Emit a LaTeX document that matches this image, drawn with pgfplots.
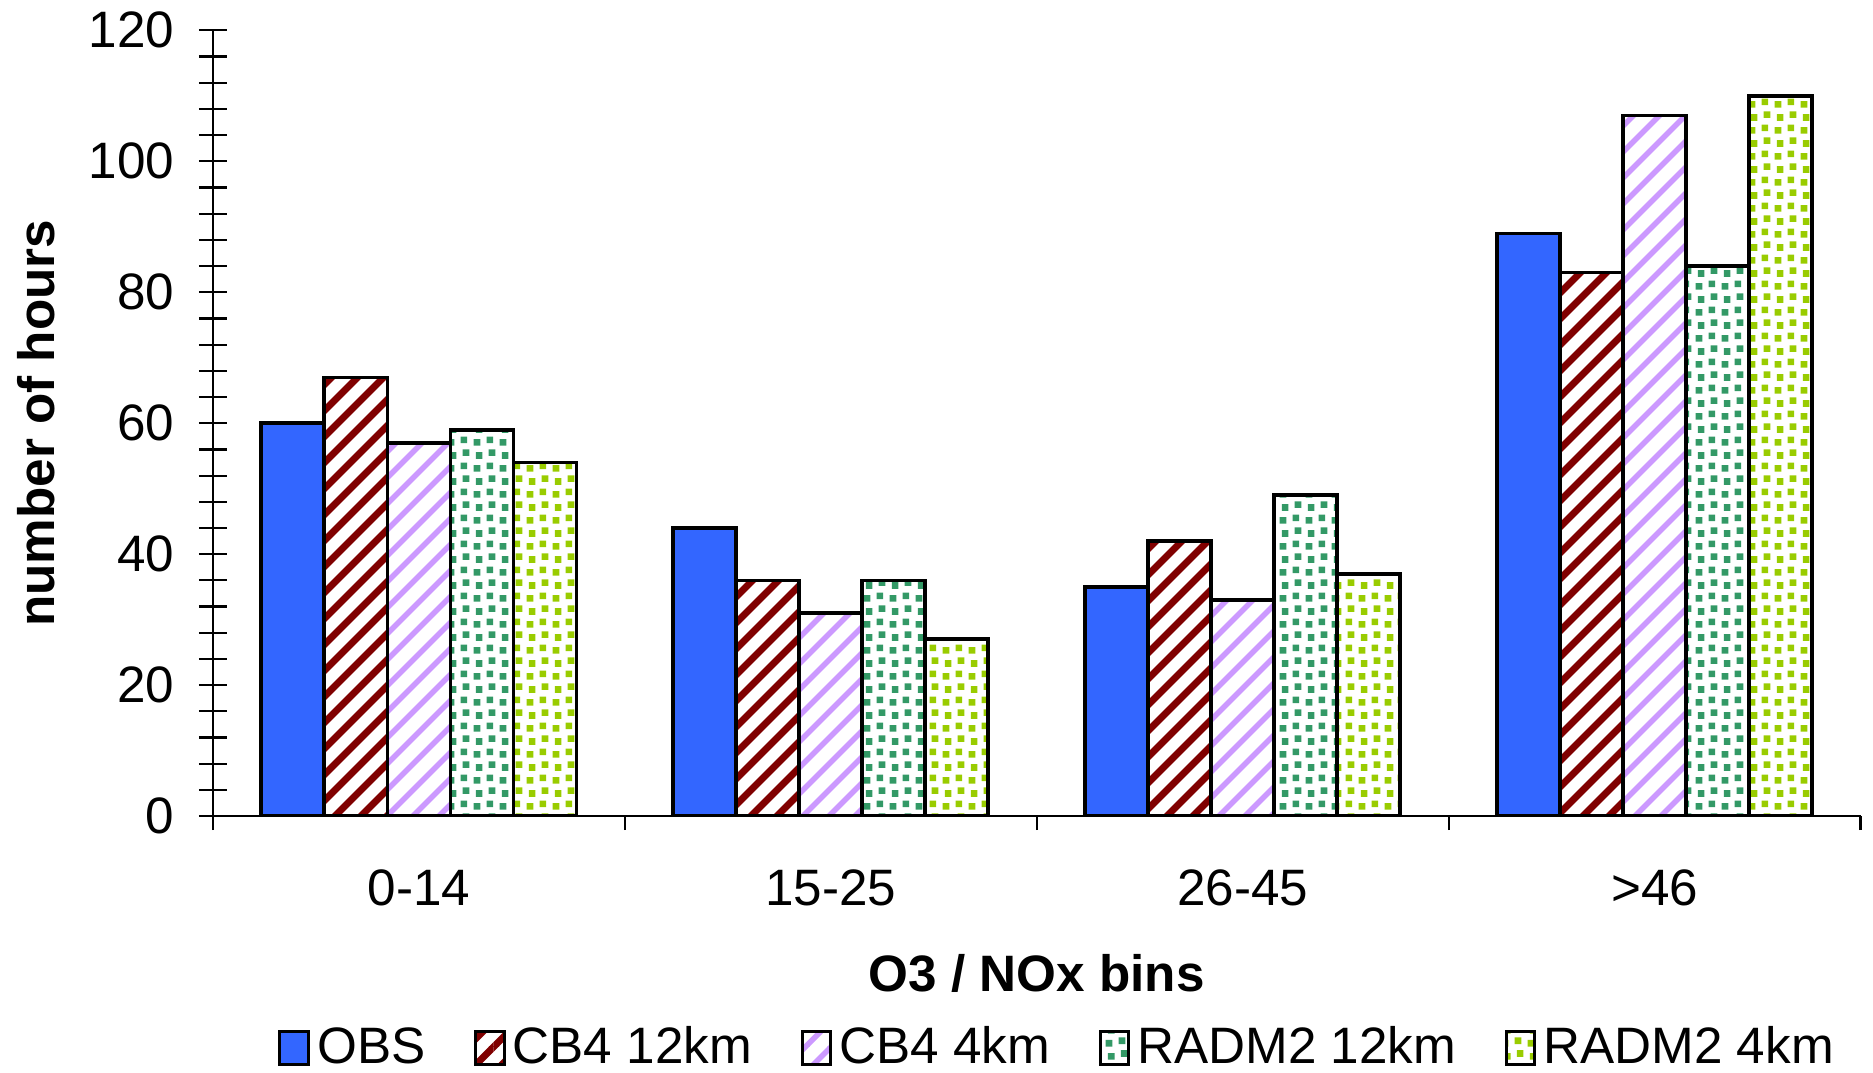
\documentclass[border=0pt]{standalone}
\usepackage{fontspec}
\setmainfont{Liberation Sans}
\usepackage{pgfplots}
\pgfplotsset{compat=1.18}
\usetikzlibrary{patterns}

\definecolor{obsblue}{HTML}{3366FF}
\definecolor{cbred}{HTML}{800000}
\definecolor{lav}{HTML}{CC99FF}
\definecolor{rgreen}{HTML}{339966}
\definecolor{ylg}{HTML}{99CC00}

\pgfdeclarepatternformonly{thickstripes}{\pgfqpoint{0pt}{0pt}}{\pgfqpoint{7.1pt}{7.1pt}}{\pgfqpoint{7.1pt}{7.1pt}}{%
  \pgfsetlinewidth{1.9pt}%
  \pgfpathmoveto{\pgfqpoint{-2pt}{-2pt}}\pgfpathlineto{\pgfqpoint{9.1pt}{9.1pt}}%
  \pgfpathmoveto{\pgfqpoint{-2pt}{5.1pt}}\pgfpathlineto{\pgfqpoint{4pt}{11.1pt}}%
  \pgfpathmoveto{\pgfqpoint{5.1pt}{-2pt}}\pgfpathlineto{\pgfqpoint{11.1pt}{4pt}}%
  \pgfusepath{stroke}}
\pgfdeclarepatternformonly{thinstripes}{\pgfqpoint{0pt}{0pt}}{\pgfqpoint{7.1pt}{7.1pt}}{\pgfqpoint{7.1pt}{7.1pt}}{%
  \pgfsetlinewidth{1.5pt}%
  \pgfpathmoveto{\pgfqpoint{-2pt}{-2pt}}\pgfpathlineto{\pgfqpoint{9.1pt}{9.1pt}}%
  \pgfpathmoveto{\pgfqpoint{-2pt}{5.1pt}}\pgfpathlineto{\pgfqpoint{4pt}{11.1pt}}%
  \pgfpathmoveto{\pgfqpoint{5.1pt}{-2pt}}\pgfpathlineto{\pgfqpoint{11.1pt}{4pt}}%
  \pgfusepath{stroke}}
\pgfdeclarepatternformonly{confetti}{\pgfqpoint{0pt}{0pt}}{\pgfqpoint{7.2pt}{7.2pt}}{\pgfqpoint{7.2pt}{7.2pt}}{%
  \pgfpathrectangle{\pgfqpoint{0.2pt}{0.1pt}}{\pgfqpoint{1.85pt}{1.85pt}}%
  \pgfpathrectangle{\pgfqpoint{3.8pt}{0.8pt}}{\pgfqpoint{1.85pt}{1.85pt}}%
  \pgfpathrectangle{\pgfqpoint{0.8pt}{3.7pt}}{\pgfqpoint{1.85pt}{1.85pt}}%
  \pgfpathrectangle{\pgfqpoint{4.4pt}{4.5pt}}{\pgfqpoint{1.85pt}{1.85pt}}%
  \pgfusepath{fill}}

\newcommand{\fs}{\fontsize{14}{16.8}\selectfont}

\begin{document}
\begin{tikzpicture}
\begin{axis}[
  scale only axis, width=450.4pt, height=214.8pt,
  ybar=0pt, bar width=0.153,
  xmin=-0.5, xmax=3.5, ymin=0, ymax=120,
  axis x line*=bottom, axis y line*=left,
  axis line style={-, line width=0.6pt},
  xtick pos=left, ytick pos=left,
  tick align=center, xtick align=outside,
  major tick length=3.8pt, minor tick length=7.6pt,
  tick style={black, line width=0.6pt},
  xtick={-0.5,0.5,1.5,2.5,3.5},
  xticklabels={0-14,15-25,26-45,>46},
  x tick label as interval,
  ytick={0,20,...,120}, minor ytick={0,4,...,120},
  /pgf/number format/assume math mode=true,
  tick label style={font=\fs},
  xticklabel style={yshift=-7.2pt},
  yticklabel style={xshift=-5.2pt},
  xlabel={O3 / NOx bins}, ylabel={number of hours},
  label style={font=\fs\bfseries},
  x label style={at={(axis description cs:0.5,-0.1997)}, anchor=center},
  y label style={at={(axis description cs:-0.1075,0.5)}, anchor=center},
  legend columns=5,
  legend style={draw=none, font=\fs, at={(axis description cs:0.514,-0.295)}, anchor=center,
    /tikz/every even column/.append style={column sep=11.3pt}},
  mylegend/.style={legend image code/.code={\draw[##1, line width=0.8pt] (0pt,-4.5pt) rectangle (7.8pt,4.5pt);}},
]
\addplot[draw=black, line width=1pt, fill=obsblue, mylegend] coordinates {(0,60) (1,44) (2,35) (3,89)};
\addplot[draw=black, line width=1pt, pattern=thickstripes, pattern color=cbred, mylegend] coordinates {(0,67) (1,36) (2,42) (3,83)};
\addplot[draw=black, line width=1pt, pattern=thinstripes, pattern color=lav, mylegend] coordinates {(0,57) (1,31) (2,33) (3,107)};
\addplot[draw=black, line width=1pt, pattern=confetti, pattern color=rgreen, mylegend] coordinates {(0,59) (1,36) (2,49) (3,84)};
\addplot[draw=black, line width=1pt, pattern=confetti, pattern color=ylg, mylegend] coordinates {(0,54) (1,27) (2,37) (3,110)};
\legend{OBS, CB4 12km, CB4 4km, RADM2 12km, RADM2 4km}
\coordinate (bl) at (rel axis cs:0,0);
\end{axis}
\pgfresetboundingbox
\path (bl) ++(-58.2pt,-70.2pt) rectangle ++(512pt,293.3pt);
\end{tikzpicture}
\end{document}
